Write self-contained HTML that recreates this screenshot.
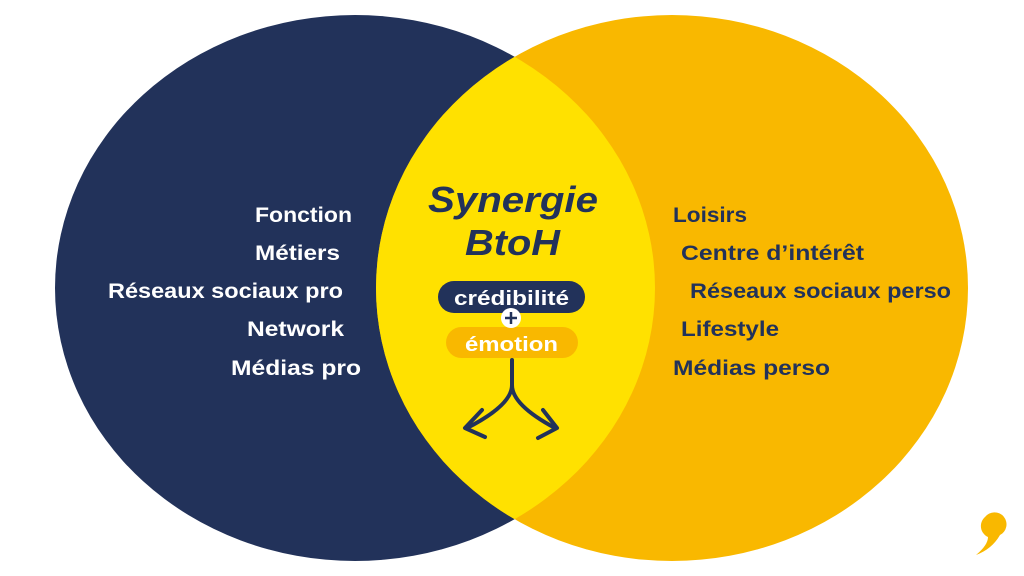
<!DOCTYPE html>
<html><head><meta charset="utf-8"><style>
html,body{margin:0;padding:0;background:#fff;}
svg{display:block}
text{font-family:"Liberation Sans",sans-serif;}
</style></head><body>
<svg width="1024" height="576" viewBox="0 0 1024 576" xmlns="http://www.w3.org/2000/svg">
<defs>
<clipPath id="lc"><ellipse cx="355" cy="288" rx="300" ry="273"/></clipPath>
</defs>
<ellipse cx="355" cy="288" rx="300" ry="273" fill="#22325A"/>
<ellipse cx="672" cy="288" rx="296" ry="273" fill="#F9B800"/>
<ellipse cx="672" cy="288" rx="296" ry="273" fill="#FFE100" clip-path="url(#lc)"/>

<g fill="#fff" font-size="21" font-weight="bold">
<text x="255" y="222" textLength="97" lengthAdjust="spacingAndGlyphs">Fonction</text>
<text x="255" y="260" textLength="85" lengthAdjust="spacingAndGlyphs">Métiers</text>
<text x="108" y="298" textLength="235" lengthAdjust="spacingAndGlyphs">Réseaux sociaux pro</text>
<text x="247" y="336" textLength="97" lengthAdjust="spacingAndGlyphs">Network</text>
<text x="231" y="375" textLength="130" lengthAdjust="spacingAndGlyphs">Médias pro</text>
</g>
<g fill="#22325A" font-size="21" font-weight="bold">
<text x="673" y="222" textLength="74" lengthAdjust="spacingAndGlyphs">Loisirs</text>
<text x="681" y="260" textLength="183" lengthAdjust="spacingAndGlyphs">Centre d’intérêt</text>
<text x="690" y="298" textLength="261" lengthAdjust="spacingAndGlyphs">Réseaux sociaux perso</text>
<text x="681" y="336" textLength="98" lengthAdjust="spacingAndGlyphs">Lifestyle</text>
<text x="673" y="375" textLength="157" lengthAdjust="spacingAndGlyphs">Médias perso</text>
</g>

<g fill="#22325A" font-size="36" font-weight="bold" font-style="italic">
<text x="428" y="212" textLength="170" lengthAdjust="spacingAndGlyphs">Synergie</text>
<text x="465" y="255" textLength="95" lengthAdjust="spacingAndGlyphs">BtoH</text>
</g>

<rect x="438" y="281" width="147" height="32" rx="16" fill="#22325A"/>
<text x="454" y="305" fill="#fff" font-size="20" font-weight="bold" textLength="115" lengthAdjust="spacingAndGlyphs">crédibilité</text>
<rect x="446" y="327" width="132" height="31" rx="15.5" fill="#F9B800"/>
<text x="465" y="351" fill="#fff" font-size="20" font-weight="bold" textLength="93" lengthAdjust="spacingAndGlyphs">émotion</text>
<circle cx="511" cy="318" r="10" fill="#fff"/>
<path d="M505 318h12M511 312v12" stroke="#22325A" stroke-width="2.5"/>

<g fill="none" stroke="#22325A" stroke-width="4" stroke-linecap="round" stroke-linejoin="round">
<path d="M512 360 V385 Q512 405 467 428"/>
<path d="M512 385 Q512 405 555 428"/>
<path d="M482 410 L465 428 L485 437"/>
<path d="M543 410 L557 428 L538 438"/>
</g>

<path d="M985 517 a12 12 0 1 1 15 18 q-8 14 -24 20 q12 -10 12 -18 a12 12 0 0 1 -3 -20z" fill="#F9B800"/>
</svg>
</body></html>
